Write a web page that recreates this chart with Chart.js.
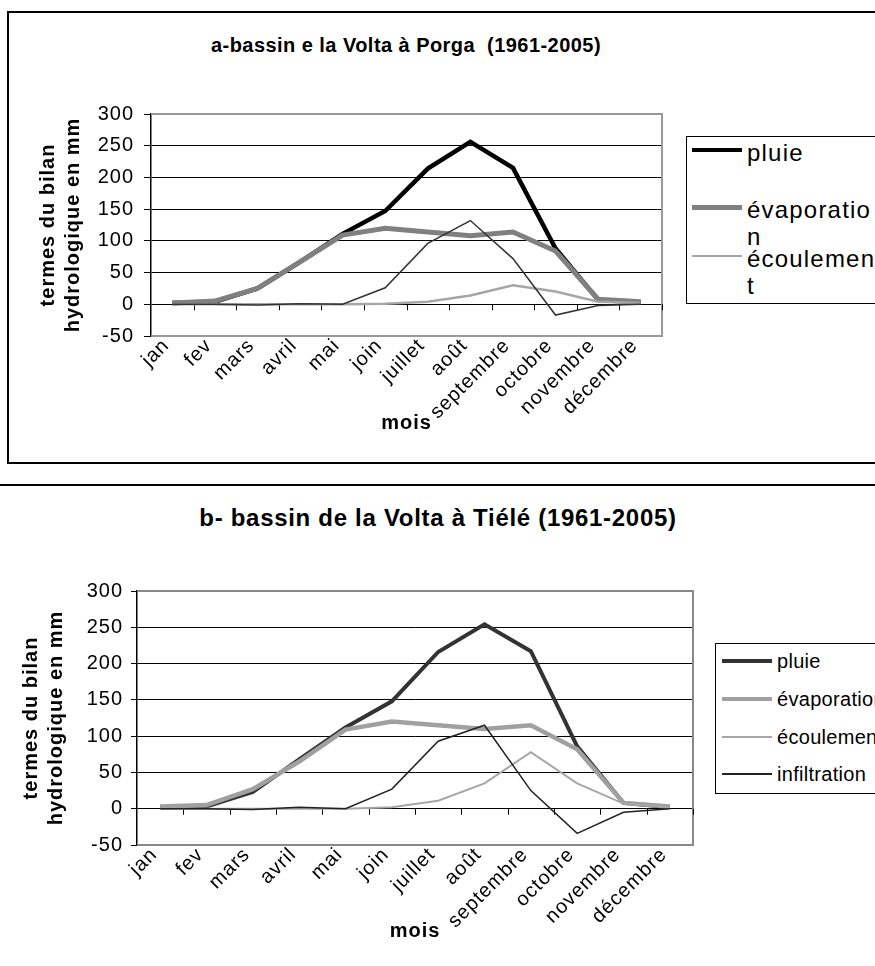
<!DOCTYPE html>
<html lang="fr">
<head>
<meta charset="utf-8">
<title>Bilan hydrologique - Volta</title>
<script src="https://cdn.jsdelivr.net/npm/chart.js@4.4.1/dist/chart.umd.min.js"></script>
<style>
  html, body { margin: 0; padding: 0; background: #fff; overflow: hidden; }
  body { width: 875px; height: 966px; position: relative; font-family: "Liberation Sans", Arial, sans-serif; color: #000; }
  .frame-a { position: absolute; left: 7px; top: 11px; width: 900px; height: 453px; border: 2px solid #000; box-sizing: border-box; }
  .rule-b { position: absolute; left: 0; top: 484px; width: 875px; height: 2px; background: #000; }
  .title { position: absolute; font-weight: bold; white-space: nowrap; transform: translateX(-50%); }
  #titleA { left: 406px; top: 35px; font-size: 20px; line-height: 20px; letter-spacing: 0.45px; }
  #titleB { left: 438px; top: 506px; font-size: 24px; line-height: 24px; letter-spacing: 0.7px; }
  canvas { position: absolute; left: 0; }
  .legend { position: absolute; border: 1.5px solid #000; background: #fff; overflow: hidden; width: 300px; box-sizing: border-box; }
  #legendA { left: 686px; top: 136px; height: 168px; font-size: 24px; line-height: 27px; letter-spacing: 1.2px; }
  #legendB { left: 715px; top: 643px; height: 151px; font-size: 20px; line-height: 24px; letter-spacing: 0.3px; }
  .legend .row { position: absolute; left: 0; width: 100%; }
  .legend .sample { position: absolute; width: 50px; }
  .legend .label { position: absolute; white-space: normal; word-break: break-all; }
  #legendA .sample { left: 5px; }
  #legendA .label { left: 60px; width: 132px; }
  #legendB .sample { left: 6px; }
  #legendB .label { left: 61px; width: 200px; }
</style>
</head>
<body>
<div class="frame-a"></div>
<div class="rule-b"></div>
<div class="title" id="titleA">a-bassin e la Volta à Porga&nbsp; (1961-2005)</div>
<div class="title" id="titleB">b- bassin de la Volta à Tiélé (1961-2005)</div>
<canvas id="chartA" width="680" height="470" style="top:0"></canvas>
<canvas id="chartB" width="700" height="486" style="top:480px"></canvas>
<div class="legend" id="legendA"></div>
<div class="legend" id="legendB"></div>
<script>
// months on the x axis
const months = ['jan', 'fev', 'mars', 'avril', 'mai', 'join', 'juillet', 'août', 'septembre', 'octobre', 'novembre', 'décembre'];
const seriesNames = ['pluie', 'évaporation', 'écoulement', 'infiltration'];

// a - Volta à Porga (mm)
const porgaPluie = [2, 4, 25, 67, 111, 147, 214, 256, 215, 88, 7, 3];
const porgaEvap = [2, 5, 25, 67, 109, 120, 114, 108, 114, 84, 8, 4];
const porgaEcoul = [0, 0, 0, 0, 0, 1, 4, 14, 30, 20, 4, 2];
const porgaInfil = [0, 0, -1, 1, 0, 26, 96, 132, 72, -17, -2, 0];

// b - Volta à Tiélé (mm)
const tielePluie = [2, 3, 23, 68, 112, 148, 216, 254, 217, 86, 8, 2];
const tieleEvap = [3, 5, 27, 65, 109, 120, 115, 110, 115, 82, 8, 3];
const tieleEcoul = [0, 0, 0, 0, 0, 2, 11, 35, 78, 35, 7, 2];
const tieleInfil = [0, 0, -1, 2, 0, 27, 93, 115, 25, -34, -5, 0];

// y axis range
const yMin = -50;
const yMax = 300;
const yStep = 50;

Chart.defaults.font.family = '"Liberation Sans", Arial, sans-serif';
Chart.defaults.color = '#000';

// look of each chart (pixel layout, line styles)
const lookA = {
  colors: ['#000000', '#808080', '#a6a6a6', '#333333'],
  widths: [4.5, 5, 2.5, 1.5],
  frame: '#999999',
  padTop: 114, padRight: 18, yWidth: 151, xHeight: 134,
  tickLen: 7, tickPad: 10, yTitlePad: 36, labelPad: -2, labelShift: -6, moisPad: 34,
  legendRows: [2, 59, 108, 162], sampleOffset: 11
};
const lookB = {
  colors: ['#333333', '#a0a0a0', '#a6a6a6', '#222222'],
  widths: [4, 4.5, 2, 1.5],
  frame: '#888888',
  padTop: 111, padRight: 7, yWidth: 137, xHeight: 121,
  tickLen: 6, tickPad: 8, yTitlePad: 19, labelPad: -2, labelShift: -6, moisPad: 22,
  legendRows: [5, 43, 81, 118], sampleOffset: 12
};

// grey plot frame + small tick marks under the zero line (Excel style)
const plotFrame = {
  id: 'plotFrame',
  beforeDraw(chart) {
    chart.ctx.letterSpacing = '1px';
  },
  beforeDatasetsDraw(chart, args, opts) {
    const { ctx, chartArea: a, scales: { x, y } } = chart;
    ctx.save();
    ctx.strokeStyle = opts.color;
    ctx.lineWidth = 2;
    ctx.beginPath();
    ctx.moveTo(a.left, a.top);
    ctx.lineTo(a.right, a.top);
    ctx.lineTo(a.right, a.bottom);
    ctx.lineTo(a.left, a.bottom);
    ctx.stroke();

    const y0 = y.getPixelForValue(0);
    ctx.strokeStyle = '#000';
    ctx.lineWidth = 1;
    ctx.beginPath();
    for (let i = 1; i <= months.length; i++) {
      const px = Math.round(x.getPixelForValue(i - 0.5)) + 0.5;
      ctx.moveTo(px, y0);
      ctx.lineTo(px, y0 + 6);
    }
    ctx.stroke();
    ctx.restore();
  }
};

function buildChart(id, series, look) {
  return new Chart(document.getElementById(id), {
    type: 'line',
    data: {
      labels: months,
      datasets: seriesNames.map((name, i) => ({
        label: name,
        data: series[i],
        borderColor: look.colors[i],
        backgroundColor: look.colors[i],
        borderWidth: look.widths[i],
        pointRadius: 0,
        tension: 0,
        fill: false,
        order: seriesNames.length - i
      }))
    },
    options: {
      responsive: false,
      animation: false,
      layout: { padding: { top: look.padTop, right: look.padRight, bottom: 0, left: 0 } },
      plugins: {
        legend: { display: false },
        tooltip: { enabled: false },
        plotFrame: { color: look.frame }
      },
      scales: {
        x: {
          offset: true,
          grid: { display: false, drawTicks: false },
          border: { display: false },
          ticks: {
            autoSkip: false, minRotation: 45, maxRotation: 45,
            padding: look.labelPad, labelOffset: look.labelShift, font: { size: 20 }
          },
          title: {
            display: true, text: 'mois',
            font: { size: 20, weight: 'bold', lineHeight: 1.25 },
            padding: { top: 0, bottom: look.moisPad }
          },
          afterFit: s => { s.height = look.xHeight; }
        },
        y: {
          min: yMin,
          max: yMax,
          grid: { color: '#000', lineWidth: 1, tickLength: look.tickLen },
          border: { color: '#000', width: 1.5 },
          ticks: { stepSize: yStep, padding: look.tickPad, font: { size: 20 } },
          title: {
            display: true, text: ['termes du bilan', 'hydrologique en mm'],
            font: { size: 20, weight: 'bold', lineHeight: 1.25 },
            padding: { top: look.yTitlePad, bottom: 0 }
          },
          afterFit: s => { s.width = look.yWidth; }
        }
      }
    },
    plugins: [plotFrame]
  });
}

function buildLegend(id, look) {
  const box = document.getElementById(id);
  seriesNames.forEach((name, i) => {
    const row = document.createElement('div');
    row.className = 'row';
    row.style.top = look.legendRows[i] + 'px';
    const sample = document.createElement('div');
    sample.className = 'sample';
    sample.style.top = (look.sampleOffset - look.widths[i] / 2) + 'px';
    sample.style.height = look.widths[i] + 'px';
    sample.style.background = look.colors[i];
    const label = document.createElement('div');
    label.className = 'label';
    label.textContent = name;
    row.appendChild(sample);
    row.appendChild(label);
    box.appendChild(row);
  });
}

buildChart('chartA', [porgaPluie, porgaEvap, porgaEcoul, porgaInfil], lookA);
buildChart('chartB', [tielePluie, tieleEvap, tieleEcoul, tieleInfil], lookB);
buildLegend('legendA', lookA);
buildLegend('legendB', lookB);
</script>
</body>
</html>
